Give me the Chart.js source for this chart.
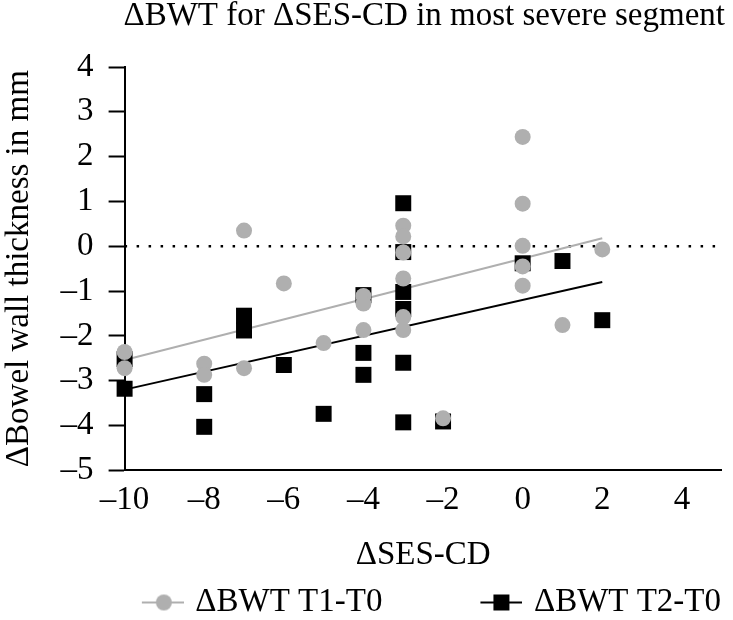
<!DOCTYPE html>
<html>
<head>
<meta charset="utf-8">
<script src="https://cdn.jsdelivr.net/npm/chart.js@4.4.1/dist/chart.umd.min.js"></script>
<style>
  html, body { margin: 0; padding: 0; background: #fff; overflow: hidden; }
  #wrap { width: 733px; height: 620px; }
</style>
</head>
<body>
<div id="wrap"><canvas id="chart"></canvas></div>
<script>
// ΔBWT T1-T0 (grey circles)
const t1Ses = [-10, -10, -8, -8, -7, -7, -6, -5, -4, -4, -4, -3, -3, -3, -3, -3, -3, -2, 0, 0, 0, 0, 0, 1, 2];
const t1Bwt = [-2.36, -2.72, -2.62, -2.87, 0.35, -2.72, -0.83, -2.16, -1.11, -1.28, -1.87, 0.46, 0.22, -0.14, -0.72, -1.58, -1.87, -3.84, 2.44, 0.95, 0.01, -0.45, -0.88, -1.76, -0.07];

// ΔBWT T2-T0 (black squares)
const t2Ses = [-10, -10, -8, -8, -7, -7, -6, -5, -4, -4, -4, -3, -3, -3, -3, -3, -3, -2, 0, 1, 2];
const t2Bwt = [-2.52, -3.18, -3.30, -4.03, -1.55, -1.88, -2.65, -3.74, -1.09, -2.38, -2.87, 0.96, -0.13, -1.02, -1.40, -2.60, -3.93, -3.91, -0.38, -0.33, -1.65];

// trend lines
const trend1Ses = [-10, 2];
const trend1Bwt = [-2.54, 0.18];
const trend2Ses = [-10, 2];
const trend2Bwt = [-3.20, -0.80];

// dotted zero line
const zeroSes = [-10, 5];
const zeroBwt = [0, 0];

const xTicks = [-10, -8, -6, -4, -2, 0, 2, 4];
const yTicks = [-5, -4, -3, -2, -1, 0, 1, 2, 3, 4];

const grey = 'rgb(175, 175, 175)';
const black = '#000';
const serif = "'Liberation Serif', serif";
const fontSize = 33;

function pts(xs, ys) {
	return xs.map((x, i) => ({x: x, y: ys[i]}));
}

// legend marker: short line with the point on it, drawn at the right end of a wide box
const iconW = 131;
const iconShift = 5;
function legendIcon(color, shape) {
	const c = document.createElement('canvas');
	c.width = iconW + 2 * iconShift;
	c.height = 20;
	const g = c.getContext('2d');
	const x0 = c.width - 42;
	g.strokeStyle = color;
	g.fillStyle = color;
	g.lineWidth = 2;
	g.beginPath();
	g.moveTo(x0, 10);
	g.lineTo(c.width, 10);
	g.stroke();
	if (shape === 'circle') {
		g.beginPath();
		g.arc(x0 + 22, 10, 8, 0, Math.PI * 2);
		g.fill();
	} else {
		g.fillRect(x0 + 13, 2, 16, 16);
	}
	return c;
}
const icons = [legendIcon(grey, 'circle'), legendIcon(black, 'rect')];

const minus = v => (v < 0 ? '\u2013' + Math.abs(v) : '' + v);

const defaultLabels = Chart.defaults.plugins.legend.labels.generateLabels;

new Chart(document.getElementById('chart').getContext('2d'), {
	type: 'scatter',
	data: {
		datasets: [
			{
				label: 'ΔBWT T1-T0',
				data: pts(t1Ses, t1Bwt),
				backgroundColor: grey,
				borderColor: grey,
				pointStyle: 'circle',
				pointRadius: 8,
				borderWidth: 0,
				clip: false
			},
			{
				label: 'ΔBWT T2-T0',
				data: pts(t2Ses, t2Bwt),
				backgroundColor: black,
				borderColor: black,
				pointStyle: 'rect',
				pointRadius: 11.3,
				borderWidth: 0,
				clip: false
			},
			{
				label: 'trend1',
				data: pts(trend1Ses, trend1Bwt),
				showLine: true,
				borderColor: grey,
				borderWidth: 2,
				pointRadius: 0
			},
			{
				label: 'trend2',
				data: pts(trend2Ses, trend2Bwt),
				showLine: true,
				borderColor: black,
				borderWidth: 2,
				pointRadius: 0
			},
			{
				label: 'zero',
				data: pts(zeroSes, zeroBwt),
				showLine: true,
				borderColor: black,
				borderWidth: 2.5,
				borderDash: [2.5, 9.5],
				pointRadius: 0
			}
		]
	},
	options: {
		responsive: true,
		maintainAspectRatio: false,
		animation: false,
		layout: {padding: {left: 0, right: 8, top: 0, bottom: -9}},
		plugins: {
			tooltip: {enabled: false},
			title: {
				display: true,
				text: 'ΔBWT for ΔSES-CD in most severe segment',
				align: 'end',
				color: black,
				font: {family: serif, size: fontSize, weight: 'normal', lineHeight: 1},
				padding: {top: 0, bottom: 34}
			},
			legend: {
				position: 'bottom',
				align: 'end',
				labels: {
					color: black,
					font: {family: serif, size: fontSize},
					usePointStyle: true,
					pointStyleWidth: iconW,
					padding: 4,
					generateLabels: chart => defaultLabels(chart)
						.filter(item => item.datasetIndex < 2)
						.map(item => Object.assign(item, {pointStyle: icons[item.datasetIndex]}))
				}
			}
		},
		scales: {
			x: {
				type: 'linear',
				min: -10,
				max: 5,
				afterBuildTicks: s => { s.ticks = xTicks.map(v => ({value: v})); },
				ticks: {color: black, font: {family: serif, size: fontSize}, padding: 10, callback: minus},
				grid: {display: false, drawTicks: false},
				border: {color: black, width: 2},
				title: {display: true, text: 'ΔSES-CD', color: black, font: {family: serif, size: fontSize}, padding: {top: 6, bottom: 6.5}}
			},
			y: {
				type: 'linear',
				min: -5,
				max: 4,
				afterBuildTicks: s => { s.ticks = yTicks.map(v => ({value: v})); },
				ticks: {color: black, font: {family: serif, size: fontSize}, padding: 15, callback: minus},
				grid: {drawOnChartArea: false, drawTicks: true, tickLength: 16, tickWidth: 2, tickColor: black},
				border: {color: black, width: 2},
				title: {display: true, text: 'ΔBowel wall thickness in mm', color: black, font: {family: serif, size: fontSize}, padding: {top: 0, bottom: 6}}
			}
		}
	}
});
</script>
</body>
</html>
